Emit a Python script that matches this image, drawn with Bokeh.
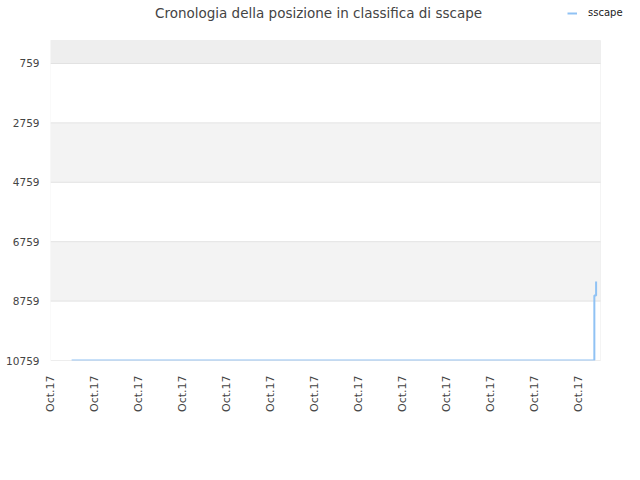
import math
from bokeh.plotting import figure
from bokeh.models import (Range1d, FixedTicker, BoxAnnotation, Legend, LegendItem,
                          Label)
from bokeh.embed import file_html
from bokeh.resources import INLINE

# ---- data ----
title_text = "Cronologia della posizione in classifica di sscape"
series_name = "sscape"
x_tick_positions = [0, 1, 2, 3, 4, 5, 6, 7, 8, 9, 10, 11, 12]
x_tick_labels = ["Oct.17"] * 13
y_ticks = [759, 2759, 4759, 6759, 8759, 10759]
# position over time (step changes)
time_x = [0.48, 12.36, 12.40]
rank_y = [10759, 8570, 8100]

FONT = "DejaVu Sans"

# plot area geometry (pixels) and value extents
W, H = 640, 480
LEFT, TOP, BOTTOM = 50, 40, 120
AREA_W = 550
AREA_H = H - TOP - BOTTOM
X0, X1 = 0, 12.5
Y_BOT, Y_TOP = 10759, -15

frame_w = W - LEFT
frame_h = H - BOTTOM
x_end = X0 + (X1 - X0) * frame_w / AREA_W
y_end = Y_BOT + (Y_TOP - Y_BOT) * frame_h / AREA_H

p = figure(width=W, height=H, output_backend="svg", toolbar_location=None,
           x_range=Range1d(X0, x_end), y_range=Range1d(Y_BOT, y_end),
           min_border_left=LEFT, min_border_right=0, min_border_top=0,
           min_border_bottom=BOTTOM)

p.background_fill_color = "white"
p.border_fill_color = "white"
p.outline_line_color = None
p.grid.visible = False

# bands
p.add_layout(BoxAnnotation(left=X0, right=X1, bottom=Y_TOP, top=y_ticks[0],
                           fill_color="#eeeeee", fill_alpha=1, line_alpha=0,
                           level="underlay"))
for i in range(1, len(y_ticks) - 1, 2):
    p.add_layout(BoxAnnotation(left=X0, right=X1, bottom=y_ticks[i],
                               top=y_ticks[i + 1], fill_color="#f3f3f3",
                               fill_alpha=1, line_alpha=0, level="underlay"))

# grid lines
p.segment(x0=X0, x1=X1, y0=y_ticks, y1=y_ticks, line_color="#e2e2e2",
          line_width=1)

# plot-area border
p.add_layout(BoxAnnotation(left=X0, right=X1, bottom=Y_BOT, top=Y_TOP,
                           fill_alpha=0, line_color="#d9d9d9", line_width=1,
                           level="overlay"))

p.yaxis.ticker = FixedTicker(ticks=y_ticks)
p.yaxis.axis_line_color = None
p.yaxis.major_tick_line_color = None
p.yaxis.minor_tick_line_color = None
p.yaxis.major_label_text_font = FONT
p.yaxis.major_label_text_font_size = "10.5px"
p.yaxis.major_label_text_color = "#444444"
p.yaxis.major_label_standoff = 5

p.xaxis.ticker = FixedTicker(ticks=x_tick_positions)
p.xaxis.major_label_overrides = {t: l for t, l in zip(x_tick_positions, x_tick_labels)}
p.xaxis.major_label_orientation = math.pi / 2
p.xaxis.axis_line_color = None
p.xaxis.major_tick_line_color = None
p.xaxis.minor_tick_line_color = None
p.xaxis.major_label_text_font = FONT
p.xaxis.major_label_text_font_size = "11px"
p.xaxis.major_label_text_color = "#444444"
p.xaxis.major_label_standoff = 9

r = p.step(time_x, rank_y, mode="after", line_color="#90c2f4", line_width=2)

p.add_layout(Label(x=268, y=frame_h - 12, x_units="screen", y_units="screen",
                   text=title_text, text_align="center",
                   text_baseline="middle", text_font=FONT,
                   text_font_size="13.5px", text_color="#444444"))

legend = Legend(items=[LegendItem(label=series_name, renderers=[r])],
                location=(517, frame_h - 18), background_fill_alpha=0,
                border_line_color=None, label_text_font=FONT,
                label_text_font_size="10px", label_text_color="#222222",
                glyph_width=10, glyph_height=10, label_standoff=11,
                padding=0, margin=0, label_height=10)
p.add_layout(legend)

open("out.html", "w").write(file_html(p, INLINE))
